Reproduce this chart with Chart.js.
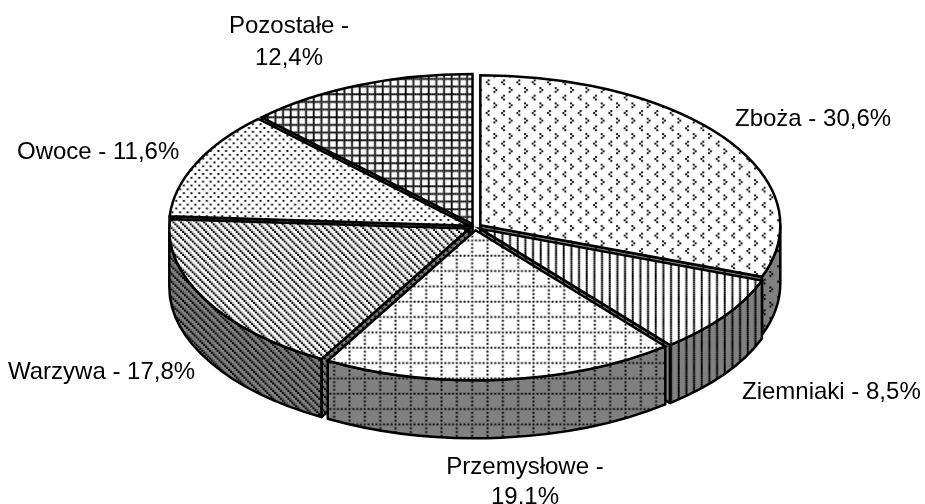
<!DOCTYPE html>
<html lang="pl">
<head>
<meta charset="utf-8">
<style>html,body{margin:0;padding:0;background:#fff}canvas{display:block}</style>
<script src="https://cdn.jsdelivr.net/npm/chart.js@4"></script>
</head>
<body>
<canvas id="c" width="925" height="504"></canvas>
<script>
// ---- data ----
const categories = ['Zboża','Ziemniaki','Przemysłowe','Warzywa','Owoce','Pozostałe'];
const shares = [30.6, 8.5, 19.1, 17.8, 11.6, 12.4];

// ---- geometry / style (not data) ----
const RADIUS = 300, SQUASH = 0.5, DEPTH = 58, EXPLODE = 6.5, CY = 227;
const FONT = '24px "Liberation Sans", Arial, sans-serif';
const WALL = '#808080';
const labelPlaces = [
  {x:735, y:118, align:'left'},
  {x:742, y:391, align:'left'},
  {x:525, y:466, align:'center', wrap:true, gap:30},
  {x:8,   y:371, align:'left'},
  {x:17,  y:151, align:'left'},
  {x:289, y:25,  align:'center', wrap:true, gap:32}
];
// 8x8 hatch bitmaps, one per slice, enlarged the way the source picture was
const hatch = [
  ['#.......','.#......','#.......','........','.....#..','....#...','.....#..','........'],
  ['#...#...','#...#...','#...#...','#...#...','#...#...','#...#...','#...#...','#...#...'],
  ['#.#.#.#.','........','#.......','........','#.......','........','#.......','........'],
  ['#+..#+..','.#+..#+.','..#+..#+','+..#+..#','#+..#+..','.#+..#+.','..#+..#+','+..#+..#'],
  ['#...#...','........','..#...#.','........','#...#...','........','..#...#.','........'],
  ['########','#...#...','#...#...','#...#...','########','#...#...','#...#...','#...#...']
];
const phases = [[570.1,133.1],[585.7,0],[440.5,300.7],[299,279],[286.4,173],[381.7,116.3]];

const TILE = 46, BITS = 24, S = TILE / BITS;
function makeTile(bits, bg) {
  const t = document.createElement('canvas');
  t.width = t.height = TILE;
  const tx = t.getContext('2d');
  tx.fillStyle = bg; tx.fillRect(0,0,TILE,TILE);
  for (let j=0;j<BITS;j++) for (let i=0;i<BITS;i++) {
    const c = bits[j%8][i%8];
    if (c==='.') continue;
    tx.fillStyle = c==='#' ? '#000' : 'rgba(0,0,0,.3)';
    tx.fillRect(i*S,j*S,S,S);
  }
  return t;
}
const probe = document.getElementById('c').getContext('2d');
const topFills = hatch.map((b,i)=>{
  const p = probe.createPattern(makeTile(b,'#fff'),'repeat');
  p.setTransform(new DOMMatrix([1,0,0,1/SQUASH,phases[i][0],phases[i][1]/SQUASH-CY*(1/SQUASH-1)]));
  return p;
});
const wallFills = hatch.map((b,i)=>{
  const p = probe.createPattern(makeTile(b,WALL),'repeat');
  p.setTransform(new DOMMatrix([1,0,0,1,phases[i][0],phases[i][1]]));
  return p;
});

function labelLines(i){
  const v = shares[i].toFixed(1).replace('.',',') + '%';
  return labelPlaces[i].wrap ? [categories[i]+' -', v] : [categories[i]+' - '+v];
}
function screen(arc){ return {x:arc.x, y:CY+(arc.y-CY)*SQUASH, rx:arc.outerRadius, ry:arc.outerRadius*SQUASH}; }

const pie3d = {
  id:'pie3d',
  afterDatasetsUpdate(chart){
    chart.getDatasetMeta(0).data.forEach(a=>{
      const m=(a.startAngle+a.endAngle)/2;
      a.x+=Math.cos(m)*EXPLODE; a.y+=Math.sin(m)*EXPLODE;
    });
  },
  beforeDatasetDraw(chart,args){
    const ctx=chart.ctx, arcs=chart.getDatasetMeta(0).data;
    ctx.save();
    ctx.lineWidth=2.5; ctx.strokeStyle='#000'; ctx.lineJoin='round';
    const order=arcs.map((a,i)=>i).sort((p,q)=>{
      const f=a=>Math.sin((a.startAngle+a.endAngle)/2);
      return f(arcs[p])-f(arcs[q]);
    });
    order.forEach(i=>{
      const a=arcs[i], s=screen(a);
      ctx.fillStyle=wallFills[i];
      [[a.startAngle,-1],[a.endAngle,1]].forEach(([t,dir])=>{
        if(Math.sin(t+dir*Math.PI/2)<=0) return;
        const ex=s.x+s.rx*Math.cos(t), ey=s.y+s.ry*Math.sin(t);
        ctx.beginPath();
        ctx.moveTo(s.x,s.y); ctx.lineTo(ex,ey); ctx.lineTo(ex,ey+DEPTH); ctx.lineTo(s.x,s.y+DEPTH);
        ctx.closePath(); ctx.fill(); ctx.stroke();
      });
      const lo=Math.max(a.startAngle,0), hi=Math.min(a.endAngle,Math.PI);
      if(lo<hi){
        ctx.beginPath();
        ctx.ellipse(s.x,s.y,s.rx,s.ry,0,lo,hi);
        ctx.ellipse(s.x,s.y+DEPTH,s.rx,s.ry,0,hi,lo,true);
        ctx.closePath(); ctx.fill(); ctx.stroke();
      }
    });
    ctx.restore();
    ctx.save();
    ctx.translate(0,CY); ctx.scale(1,SQUASH); ctx.translate(0,-CY);
  },
  afterDatasetDraw(chart){
    const ctx=chart.ctx;
    ctx.restore();
    ctx.save();
    ctx.lineWidth=2.5; ctx.strokeStyle='#000'; ctx.lineJoin='miter';
    chart.getDatasetMeta(0).data.forEach(a=>{
      const s=screen(a);
      ctx.beginPath();
      ctx.moveTo(s.x,s.y);
      ctx.ellipse(s.x,s.y,s.rx,s.ry,0,a.startAngle,a.endAngle);
      ctx.closePath(); ctx.stroke();
    });
    ctx.restore();
  },
  afterDraw(chart){
    const ctx=chart.ctx;
    ctx.save();
    ctx.font=FONT; ctx.fillStyle='#000'; ctx.textBaseline='middle';
    labelPlaces.forEach((p,i)=>{
      ctx.textAlign=p.align;
      labelLines(i).forEach((l,k)=>ctx.fillText(l,p.x,p.y+k*(p.gap||0)+1));
    });
    ctx.restore();
  }
};

new Chart(document.getElementById('c'),{
  type:'pie',
  data:{labels:categories,datasets:[{data:shares,backgroundColor:topFills,borderWidth:0,clip:false}]},
  options:{
    responsive:false,animation:false,radius:RADIUS,
    layout:{padding:{left:25,bottom:50}},
    plugins:{legend:{display:false},tooltip:{enabled:false}}
  },
  plugins:[pie3d]
});
</script>
</body>
</html>
